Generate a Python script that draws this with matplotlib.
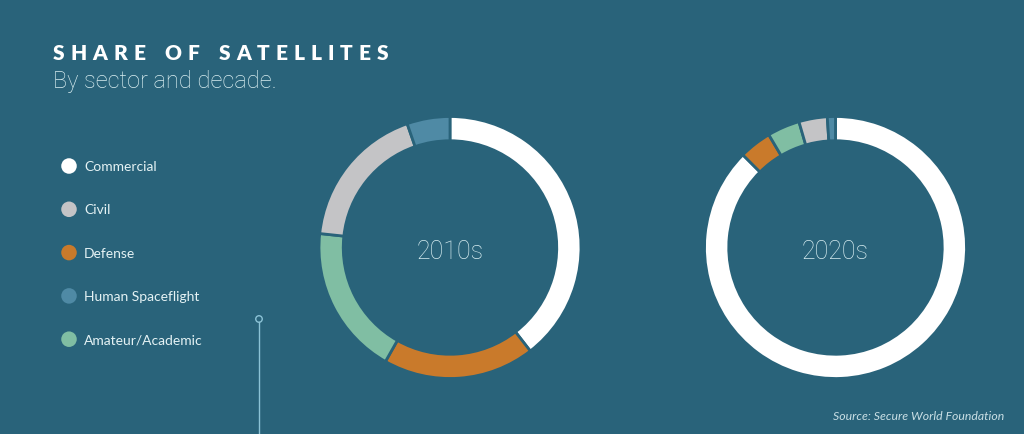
import matplotlib
matplotlib.use("Agg")
import matplotlib.pyplot as plt

# ---------------- data ----------------
sectors = ["Commercial", "Civil", "Defense", "Human Spaceflight", "Amateur/Academic"]
sector_colors = ["#ffffff", "#c4c4c6", "#c97a2b", "#4f8aa5", "#80bea3"]
decades = ["2010s", "2020s"]
share_2010s = [39.5, 18.0, 18.7, 5.3, 18.5]
share_2020s = [87.5, 3.5, 4.0, 1.0, 4.0]
# drawing order of the ring, clockwise from 12 o'clock
ring_order = ["Commercial", "Defense", "Amateur/Academic", "Civil", "Human Spaceflight"]

title = "SHARE OF SATELLITES"
subtitle = "By sector and decade."
source = "Source: Secure World Foundation"

# ---------------- style ----------------
BG = "#29637a"
TXT = "#e4f2f4"
FONT = ["Lato", "DejaVu Sans"]
LIGHT = ["Roboto", "DejaVu Sans"]
plt.rcParams["font.family"] = FONT

W, H = 1024, 435
fig = plt.figure(figsize=(W / 100, H / 100), dpi=100, facecolor=BG)

# overlay axes in pixel coordinates
ov = fig.add_axes([0, 0, 1, 1])
ov.set_xlim(0, W)
ov.set_ylim(H, 0)
ov.axis("off")
ov.set_facecolor(BG)

renderer = fig.canvas.get_renderer()


def tracked(x0, y, s, target_width, **kw):
    widths = []
    for c in s:
        if c == " ":
            widths.append(None)
            continue
        t = ov.text(0, 0, c, **kw)
        widths.append(t.get_window_extent(renderer).width)
        t.remove()
    space_w = 0.45 * max(w for w in widths if w is not None)
    widths = [space_w if w is None else w for w in widths]
    natural = sum(widths)
    track = (target_width - natural) / (len(s) - 1)
    x = x0
    for c, w in zip(s, widths):
        if c != " ":
            ov.text(x, y, c, ha="left", va="baseline", **kw)
        x += w + track


tracked(53, 60, title, 335, fontsize=15, fontweight="heavy", color="white")
ov.text(53, 88, subtitle, fontsize=17, fontweight="light", family=LIGHT,
        color="#d9eef1", ha="left", va="baseline")

# legend
leg_y0, leg_dy = 167, 43.3
for i, (lab, col) in enumerate(zip(sectors, sector_colors)):
    y = leg_y0 + i * leg_dy
    ov.scatter([69], [y], s=125, color=col, edgecolors="none", zorder=3)
    ov.text(84, y, lab, fontsize=10, color=TXT, ha="left", va="center")

# decorative vertical line with a small hollow circle
ov.plot([259, 259], [323, H], color="#8cc3d6", lw=1.0)
ov.scatter([259], [320], s=22, facecolors="none", edgecolors="#8cc3d6", linewidths=1.0)

ov.text(1004, 420, source, fontsize=8.8, style="italic", color="#c9dfe5",
        ha="right", va="baseline")

# donuts
centers_x = [450, 835.5]
center_y = 248.5
R = 131
for dec, vals, cx in zip(decades, [share_2010s, share_2020s], centers_x):
    ax = fig.add_axes([(cx - R) / W, (H - center_y - R) / H, 2 * R / W, 2 * R / H])
    idx = [sectors.index(s) for s in ring_order]
    wedges, _ = ax.pie([vals[i] for i in idx], colors=[sector_colors[i] for i in idx],
                       startangle=90, counterclock=False, radius=1.0,
                       wedgeprops=dict(width=0.185, edgecolor=BG, linewidth=2))
    for wdg in wedges:
        wdg.set_clip_on(False)
    ax.set_xlim(-1.0, 1.0)
    ax.set_ylim(-1.0, 1.0)
    ax.set_aspect("equal")
    ax.axis("off")
    ax.text(0, -0.03, dec, ha="center", va="center", fontsize=18,
            fontweight="light", family=LIGHT, color="#d5ecf0")

fig.savefig("out.png", dpi=100, facecolor=BG)
